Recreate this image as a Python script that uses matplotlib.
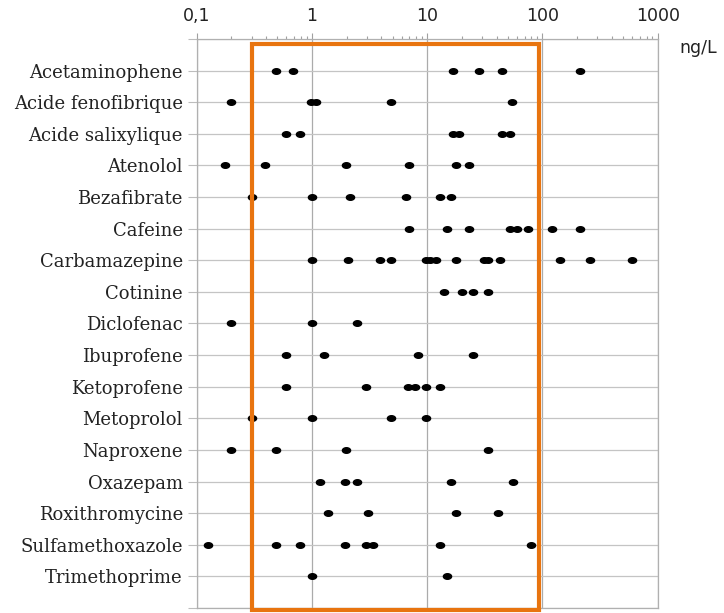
import numpy as np
import matplotlib
matplotlib.use("Agg")
import matplotlib.pyplot as plt
from matplotlib.path import Path
from matplotlib.patches import Rectangle

# Data (ng/L), top row first
compounds = [
    "Acetaminophene", "Acide fenofibrique", "Acide salixylique", "Atenolol",
    "Bezafibrate", "Cafeine", "Carbamazepine", "Cotinine", "Diclofenac",
    "Ibuprofene", "Ketoprofene", "Metoprolol", "Naproxene", "Oxazepam",
    "Roxithromycine", "Sulfamethoxazole", "Trimethoprime",
]
acetaminophene = [0.49, 0.69, 16.9, 28, 45, 211]
acide_fenofibrique = [0.2, 0.98, 1.08, 4.9, 54]
acide_salixylique = [0.59, 0.79, 16.9, 18.9, 44.6, 52.7]
atenolol = [0.175, 0.39, 1.96, 6.9, 17.9, 23]
bezafibrate = [0.3, 1.0, 2.15, 6.6, 12.8, 16.1]
cafeine = [6.9, 14.9, 23, 52.7, 60, 75, 120, 210]
carbamazepine = [1.0, 2.06, 3.9, 4.9, 9.7, 10.6, 12, 17.9, 31.3, 33.5, 43, 141, 258, 600]
cotinine = [14.1, 20.1, 25.1, 33.7]
diclofenac = [0.2, 1.0, 2.46]
ibuprofene = [0.59, 1.28, 8.4, 25.1]
ketoprofene = [0.59, 2.95, 6.75, 7.9, 9.8, 12.8]
metoprolol = [0.3, 1.0, 4.9, 9.8]
naproxene = [0.2, 0.49, 1.96, 33.7]
oxazepam = [1.17, 1.95, 2.46, 16.1, 56]
roxithromycine = [1.37, 3.09, 17.9, 40.9]
sulfamethoxazole = [0.126, 0.49, 0.78, 1.95, 2.95, 3.37, 12.8, 80]
trimethoprime = [1.0, 15]

series = [
    acetaminophene, acide_fenofibrique, acide_salixylique, atenolol,
    bezafibrate, cafeine, carbamazepine, cotinine, diclofenac,
    ibuprofene, ketoprofene, metoprolol, naproxene, oxazepam,
    roxithromycine, sulfamethoxazole, trimethoprime,
]

# highlighted concentration window
box_low, box_high = 0.3, 94

xticks = [0.1, 1, 10, 100, 1000]
xticklabels = ["0,1", "1", "10", "100", "1000"]

# flat ellipse marker (the picture is stretched sideways)
t = np.linspace(0, 2 * np.pi, 60)
ellipse = Path(np.column_stack([np.cos(t), 0.68 * np.sin(t)]), closed=True)

fig = plt.figure(figsize=(7.24, 6.13), dpi=100)
ax = fig.add_axes([0.2717, 0.0082, 0.6367, 0.9282])

n = len(compounds)
for i, vals in enumerate(series):
    y = n - i
    ax.plot(vals, [y] * len(vals), linestyle="none", marker=ellipse,
            markersize=5.9, color="black", zorder=3)

ax.set_xscale("log")
ax.set_xlim(0.1, 1000)
ax.set_ylim(0, n + 1)

ax.xaxis.tick_top()
ax.set_xticks(xticks)
ax.set_xticklabels(xticklabels, fontsize=12.5, family="DejaVu Sans", color="#222222")
ax.xaxis.set_minor_locator(matplotlib.ticker.LogLocator(base=10, subs=np.arange(2, 10)))
ax.xaxis.set_minor_formatter(matplotlib.ticker.NullFormatter())
ax.tick_params(axis="x", which="major", direction="out", length=4, width=0.8,
               color="#A0A0A0", pad=6)
ax.tick_params(axis="x", which="minor", direction="out", length=2.5, width=0.8,
               color="#A0A0A0", top=True, bottom=False)

ax.set_yticks(np.arange(0, n + 2))
ax.set_yticklabels([""] + compounds[::-1] + [""], fontsize=13,
                   family="DejaVu Serif", color="#222222")
ax.tick_params(axis="y", direction="out", length=6.5, width=0.8,
               color="#BDBDBD", pad=3.5)

ax.grid(True, axis="x", which="major", color="#ABABAB", linewidth=0.9)
ax.grid(True, axis="y", which="major", color="#C4C4C4", linewidth=0.9)
ax.set_axisbelow(True)
for side in ["top", "left", "right", "bottom"]:
    ax.spines[side].set_color("#B0B0B0")
    ax.spines[side].set_linewidth(0.9)

rect = Rectangle((box_low, -0.05), box_high - box_low, n + 0.9,
                 fill=False, edgecolor="#E8740F", linewidth=3.0,
                 zorder=4, clip_on=False)
ax.add_patch(rect)

fig.text(0.965, 0.921, "ng/L", fontsize=12.5, family="DejaVu Sans",
         ha="center", va="center", color="#222222")

fig.savefig("out.png", dpi=100)
